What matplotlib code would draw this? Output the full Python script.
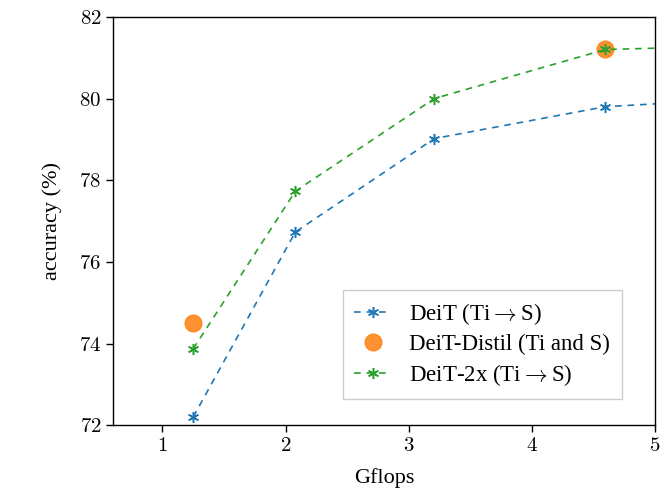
import numpy as np
from matplotlib import pyplot as plt

plt.rcParams["font.family"] = ["Liberation Serif", "DejaVu Serif"]
plt.rcParams["mathtext.fontset"] = "cm"

# Gflops vs top-1 accuracy, last point lies past the x limit
deit_gflops = [1.25, 2.08, 3.21, 4.6, 5.6]
deit_acc = [72.2, 76.73, 79.02, 79.8, 79.97]

deit2x_gflops = [1.25, 2.08, 3.21, 4.6, 5.6]
deit2x_acc = [73.87, 77.73, 80.0, 81.2, 81.28]

distil_gflops = [1.25, 4.6]
distil_acc = [74.5, 81.2]

x_ticks = [1, 2, 3, 4, 5]
y_ticks = [72, 74, 76, 78, 80, 82]


def main():
    fig = plt.figure(figsize=(6.62, 4.95), dpi=100)
    ax = fig.add_axes([0.171, 0.141, 0.818, 0.825])

    asterisk = (6, 2, 0)
    ax.plot(deit_gflops, deit_acc, linestyle="--", dashes=(4, 3.5), linewidth=1.2,
            color="tab:blue", marker=asterisk, markersize=8, markeredgewidth=1.1,
            label=r"DeiT (Ti$\rightarrow$S)", zorder=3)
    ax.plot(distil_gflops, distil_acc, linestyle="none", color="tab:orange",
            marker="o", markersize=12, alpha=0.85,
            label="DeiT-Distil (Ti and S)", zorder=3)
    ax.plot(deit2x_gflops, deit2x_acc, linestyle="--", dashes=(4, 3.5), linewidth=1.2,
            color="tab:green", marker=asterisk, markersize=8, markeredgewidth=1.1,
            label=r"DeiT-2x (Ti$\rightarrow$S)", zorder=4)

    ax.set_xlim(0.6, 5.0)
    ax.set_ylim(72, 82)
    ax.set_xticks(x_ticks)
    ax.set_yticks(y_ticks)
    ax.set_xticklabels([f"${t}$" for t in x_ticks])
    ax.set_yticklabels([f"${t}$" for t in y_ticks])
    ax.tick_params(labelsize=15, length=5, width=1)
    for s in ax.spines.values():
        s.set_linewidth(1)

    ax.set_xlabel("Gflops", fontsize=16, labelpad=9)
    ax.set_ylabel("accuracy (%)", fontsize=16, labelpad=12)

    ax.legend(loc="lower right", bbox_to_anchor=(0.96, 0.035), fontsize=16.5,
              fancybox=False, edgecolor="#cccccc", framealpha=1,
              handlelength=1.6, handletextpad=0.8, borderpad=0.5,
              labelspacing=0.3)

    fig.savefig("out.png", dpi=100)


if __name__ == "__main__":
    main()
